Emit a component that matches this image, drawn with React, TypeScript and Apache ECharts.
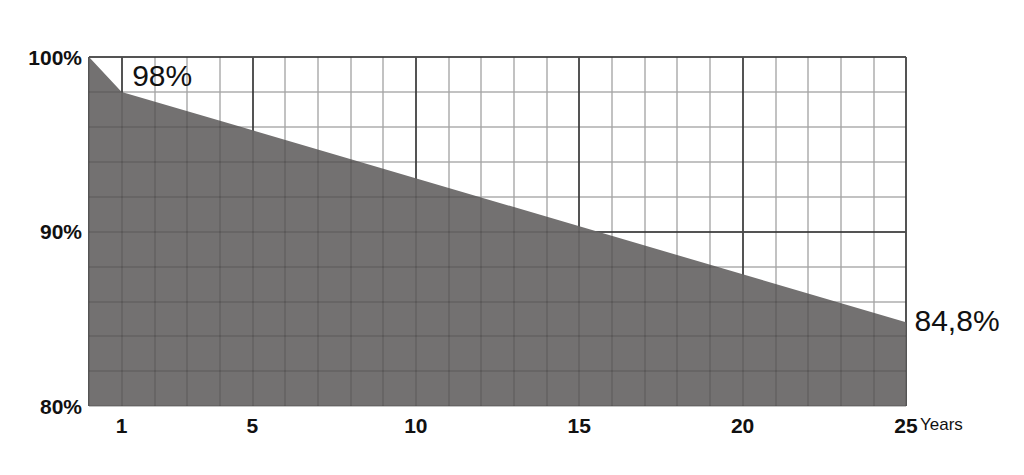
import React, { useEffect, useRef } from "react";
import * as echarts from "echarts";

const YEARS = [0, 1, 25];
const EFFICIENCY = [100, 98, 84.8];
const X_LABELS = [1, 5, 10, 15, 20, 25];
const Y_LABELS = [80, 90, 100];
const MAJOR_X = [0, 1, 5, 10, 15, 20, 25];
const MAJOR_Y = [90, 100];
const POINT_LABELS = ["", "98%", "84,8%"];
const X_UNIT = "Years";

export default function App() {
  const ref = useRef<HTMLDivElement>(null);
  useEffect(() => {
    if (!ref.current) return;
    const chart = echarts.init(ref.current, undefined, { renderer: "svg" });
    const labelFont = "'Liberation Sans Narrow', 'Liberation Sans', Arial, sans-serif";
    const data = YEARS.map((x, i) => {
      const item: any = { value: [x, EFFICIENCY[i]] };
      if (POINT_LABELS[i]) {
        item.label = {
          show: true,
          formatter: POINT_LABELS[i],
          position: i === 1 ? [11, -31] : [9, -16],
          fontSize: 30,
          color: "#111",
          opacity: 1,
          fontFamily: "'Liberation Sans', Arial, sans-serif",
        };
      }
      return item;
    });
    const baseX = {
      type: "value",
      min: 0,
      max: 25,
      interval: 1,
      axisLine: { show: false },
      axisTick: { show: false },
    };
    const baseY = {
      type: "value",
      min: 80,
      max: 100,
      interval: 2,
      axisLine: { show: false },
      axisTick: { show: false },
    };
    chart.setOption({
      animation: false,
      grid: { left: 89, right: 118, top: 57, bottom: 69, containLabel: false },
      xAxis: [
        {
          ...baseX,
          z: 0,
          position: "bottom",
          splitLine: { show: true, lineStyle: { color: "#d9d9d9", width: 2 } },
          axisLabel: {
            margin: 9,
            fontSize: 21,
            fontWeight: "bold",
            color: "#111",
            fontFamily: labelFont,
            formatter: (v: number) => (X_LABELS.includes(v) ? String(v) : ""),
          },
        },
        {
          ...baseX,
          z: 5,
          position: "bottom",
          splitLine: { show: true, lineStyle: { color: "rgba(0,0,0,0.1)", width: 2 } },
          axisLabel: { show: false },
        },
      ],
      yAxis: [
        {
          ...baseY,
          z: 0,
          position: "left",
          splitLine: { show: true, lineStyle: { color: "#d9d9d9", width: 2 } },
          axisLabel: {
            margin: 7,
            fontSize: 21,
            fontWeight: "bold",
            color: "#111",
            fontFamily: labelFont,
            formatter: (v: number) => (Y_LABELS.includes(v) ? v + "%" : ""),
          },
        },
        {
          ...baseY,
          z: 5,
          position: "left",
          splitLine: { show: true, lineStyle: { color: "rgba(0,0,0,0.1)", width: 2 } },
          axisLabel: { show: false },
        },
      ],
      graphic: [
        {
          type: "text",
          left: 920,
          top: 416,
          style: {
            text: X_UNIT,
            fontSize: 17,
            fill: "#111",
            fontFamily: labelFont,
          },
        },
      ],
      series: [
        {
          type: "line",
          data,
          xAxisIndex: 0,
          yAxisIndex: 0,
          symbol: "circle",
          symbolSize: 1,
          showSymbol: true,
          itemStyle: { color: "rgba(0,0,0,0)", borderWidth: 0 },
          z: 2,
          lineStyle: { width: 0, color: "#737171" },
          areaStyle: { color: "#737171", opacity: 1 },
          markLine: {
            silent: true,
            symbol: "none",
            z: 1,
            label: { show: false },
            lineStyle: { color: "#5e5e5e", width: 2, type: "solid" },
            data: [
              ...MAJOR_X.map((x) => ({ xAxis: x })),
              ...MAJOR_Y.map((y) => ({ yAxis: y })),
            ],
          },
        },
      ],
    });
    return () => chart.dispose();
  }, []);
  return (
    <div
      ref={ref}
      style={{ position: "fixed", left: 0, top: 0, width: 1024, height: 475, background: "#fff" }}
    />
  );
}
